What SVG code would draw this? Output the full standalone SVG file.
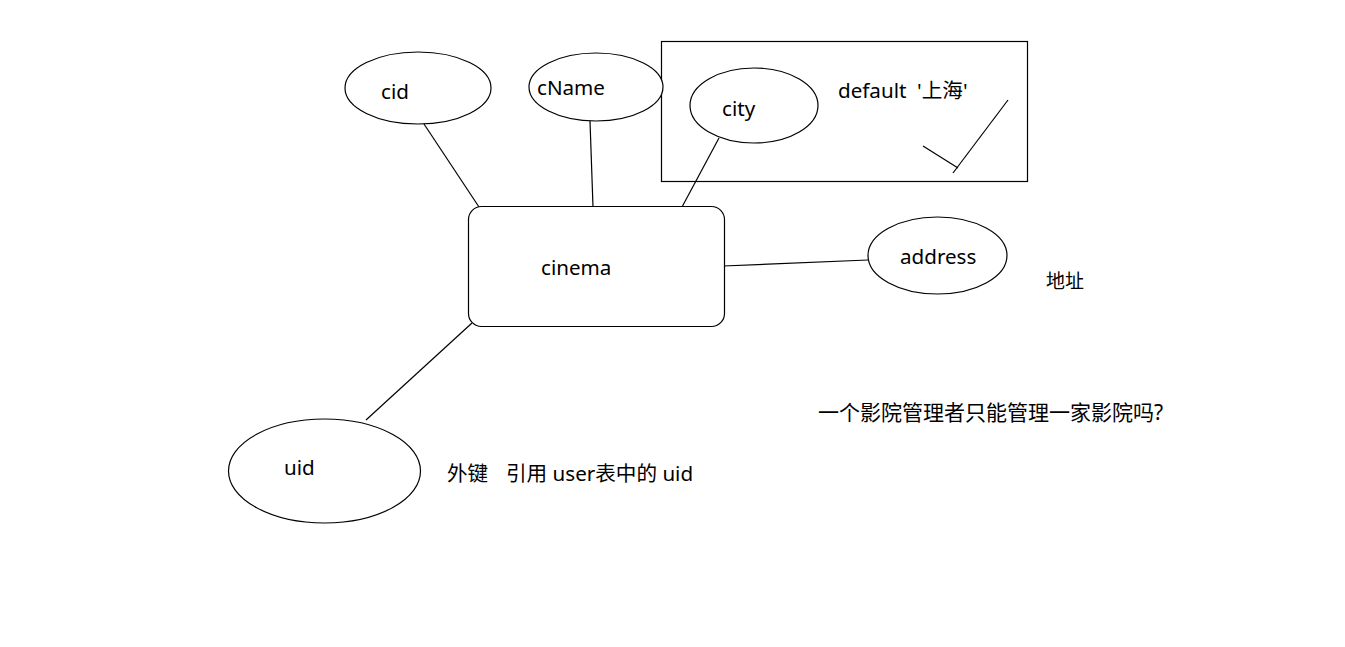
<svg xmlns="http://www.w3.org/2000/svg" width="1345" height="647" viewBox="0 0 1345 647">
<style>
.s{fill:none;stroke:#000;stroke-width:1.2}
.n{fill:#fff;stroke:#000;stroke-width:1.2}
text{font-family:"Noto Sans","Noto Sans CJK SC",sans-serif;font-size:20.6px;fill:#000;white-space:pre}
.c{font-size:19px}
.q{font-size:21px}
</style>
<rect width="1345" height="647" fill="#fff"/>
<g id="connectors" class="s">
<line x1="424" y1="124" x2="479" y2="207"/>
<line x1="590" y1="121" x2="593" y2="207"/>
<line x1="719" y1="138" x2="682" y2="207"/>
<line x1="723" y1="266" x2="868" y2="260"/>
<line x1="366" y1="420" x2="472" y2="323"/>
</g>
<g id="default-box">
<rect x="661.5" y="41.5" width="366" height="140" class="s"/>
<text x="838" y="98" xml:space="preserve">default  '上海'</text>
<line x1="923" y1="146" x2="958" y2="168" class="s"/>
<line x1="1008" y1="100" x2="953" y2="173" class="s"/>
</g>
<g id="cid"><ellipse cx="418" cy="88" rx="73" ry="36" class="n"/><text x="381" y="99">cid</text></g>
<g id="cName"><ellipse cx="596" cy="87" rx="67" ry="34" class="n"/><text x="537" y="95">cName</text></g>
<g id="city"><ellipse cx="754" cy="105.5" rx="64" ry="37.5" class="n"/><text x="722" y="116">city</text></g>
<g id="cinema"><rect x="468.5" y="206.5" width="256" height="120" rx="13" class="n"/><text x="541" y="275">cinema</text></g>
<g id="address"><ellipse cx="937.5" cy="255.5" rx="69.5" ry="38.5" class="n"/><text x="900" y="264">address</text></g>
<g id="address-note"><text x="1046" y="288" class="c">地址</text></g>
<g id="uid"><ellipse cx="324.5" cy="471" rx="96" ry="52" class="n"/><text x="284" y="475">uid</text></g>
<g id="uid-note"><text x="447" y="481">外键<tspan x="506">引用 user表中的 uid</tspan></text></g>
<g id="question"><text x="818" y="420" class="q" textLength="345" lengthAdjust="spacing">一个影院管理者只能管理一家影院吗?</text></g>
</svg>
